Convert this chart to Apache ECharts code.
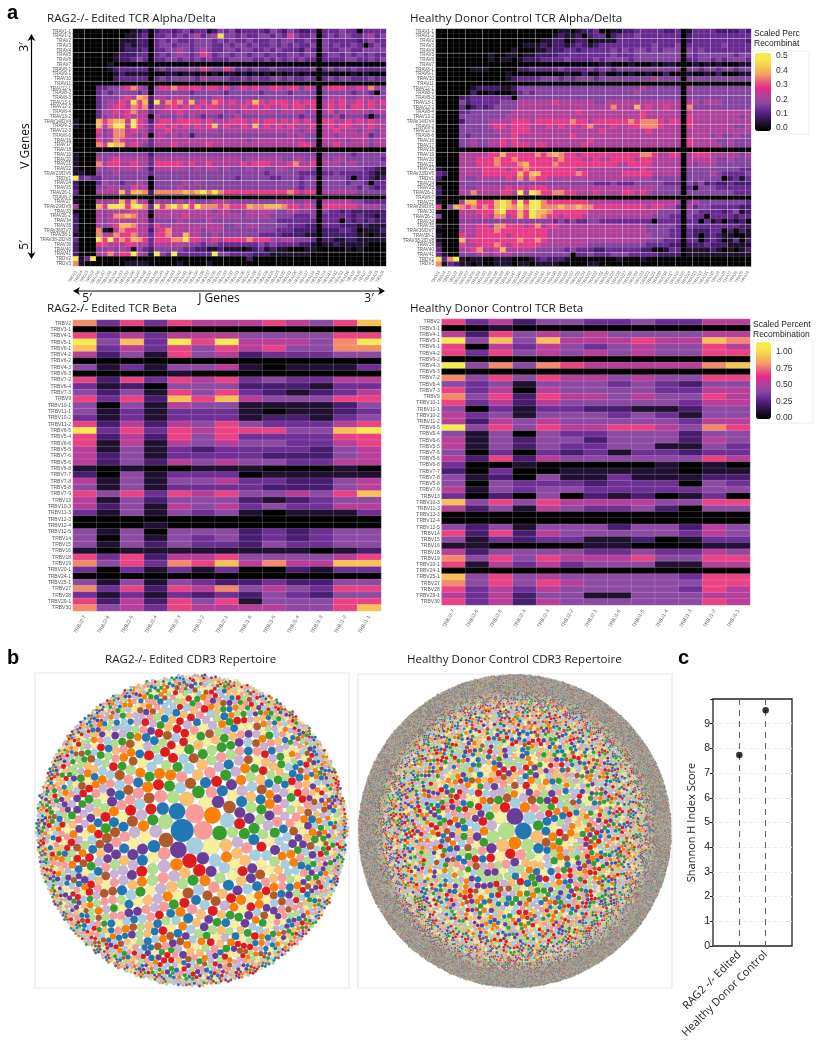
<!DOCTYPE html>
<html><head><meta charset="utf-8">
<style>html,body{margin:0;padding:0;background:#fff}#c{width:819px;height:1050px}</style>
<script src="https://cdn.jsdelivr.net/npm/echarts@6/dist/echarts.min.js"></script></head>
<body><div id="c"></div>
<script>
const alphaV=["TRAV1-1","TRAV1-2","TRAV2","TRAV3","TRAV4","TRAV5","TRAV6","TRAV7","TRAV8-1","TRAV9-1","TRAV10","TRAV11","TRAV12-1","TRAV8-2","TRAV8-3","TRAV13-1","TRAV12-2","TRAV8-4","TRAV13-2","TRAV14/DV4","TRAV9-2","TRAV12-3","TRAV8-6","TRAV16","TRAV17","TRAV18","TRAV19","TRAV20","TRAV21","TRAV22","TRAV23/DV6","TRDV1","TRAV24","TRAV25","TRAV26-1","TRAV8-7","TRAV27","TRAV29/DV5","TRAV30","TRAV26-2","TRAV34","TRAV35","TRAV36/DV7","TRAV38-1","TRAV38-2/DV8","TRAV39","TRAV40","TRAV41","TRDV2","TRDV3"];
const alphaJ=["TRDJ1","TRDJ4","TRDJ3","TRDJ2","TRAJ58","TRAJ57","TRAJ56","TRAJ54","TRAJ53","TRAJ52","TRAJ50","TRAJ49","TRAJ48","TRAJ47","TRAJ46","TRAJ45","TRAJ44","TRAJ43","TRAJ42","TRAJ41","TRAJ40","TRAJ39","TRAJ38","TRAJ37","TRAJ36","TRAJ34","TRAJ33","TRAJ32","TRAJ31","TRAJ30","TRAJ29","TRAJ28","TRAJ27","TRAJ26","TRAJ24","TRAJ23","TRAJ22","TRAJ21","TRAJ20","TRAJ18","TRAJ17","TRAJ16","TRAJ15","TRAJ14","TRAJ13","TRAJ12","TRAJ11","TRAJ10","TRAJ9","TRAJ8","TRAJ7","TRAJ6","TRAJ5","TRAJ4"];
const betaV=["TRBV2","TRBV3-1","TRBV4-1","TRBV5-1","TRBV6-1","TRBV4-2","TRBV6-2","TRBV4-3","TRBV6-3","TRBV7-2","TRBV6-4","TRBV7-3","TRBV9","TRBV10-1","TRBV11-1","TRBV10-2","TRBV11-2","TRBV6-5","TRBV5-4","TRBV6-6","TRBV5-5","TRBV7-6","TRBV5-6","TRBV6-8","TRBV7-7","TRBV7-8","TRBV5-8","TRBV7-9","TRBV13","TRBV10-3","TRBV11-3","TRBV12-3","TRBV12-4","TRBV12-5","TRBV14","TRBV15","TRBV16","TRBV18","TRBV19","TRBV20-1","TRBV24-1","TRBV25-1","TRBV27","TRBV28","TRBV29-1","TRBV30"];
const betaJ=["TRBJ2-7","TRBJ2-6","TRBJ2-5","TRBJ2-4","TRBJ2-3","TRBJ2-2","TRBJ2-1","TRBJ1-6","TRBJ1-5","TRBJ1-4","TRBJ1-3","TRBJ1-2","TRBJ1-1"];
// Each digit is one cell's colour level; the levels map to values below.
const alphaLevels=[0,.05,.1,.14,.18,.23,.3,.36,.41,.5];
const betaLevels=[0,.115,.23,.33,.42,.53,.68,.8,.93,1.12];
const alphaEdited=[
"0000 000000112 0 23323423312434 23333243243223 0 33343303333",
"0000 000001123 0 33434345345944 34334434364334 0 34344334534",
"0000 000011122 0 34343334443434 33433343443343 0 43333323433",
"0000 000012122 0 34434434443343 44343343434334 0 43433430343",
"0000 000012223 0 33445434543344 34433434333243 0 43344334444",
"0000 000122233 0 34345434653443 44344343344344 0 34434343433",
"0000 000122343 0 33443434343334 44433434343433 0 33334433434",
"0000 001000000 0 00000000000000 00000000000000 0 00000000000",
"0000 001233333 0 34344454654465 34343343333334 0 34343433333",
"0000 000121111 0 00110110101011 01010101011010 0 10000101000",
"0000 000233333 0 34344443544443 34343344343343 0 34344333433",
"0000 000000000 0 00000000000000 00000000000000 0 00000000000",
"0000 334456754 0 56676666566564 56565566566465 0 56665565754",
"0000 343444434 0 44444434444434 44443444434444 0 44444344304",
"0000 344456587 2 55455544445544 44444444444444 0 45554455454",
"0000 345565968 2 95767585657656 55686566656566 0 56565565656",
"0000 345665767 2 55665656566555 56565655656656 0 56564665655",
"0000 355656755 3 45556555555545 45555554555545 0 56455555455",
"0000 345556555 0 54445454344344 54444444444344 0 44534443034",
"1000 867885965 2 56656666565556 66565665656565 0 66556565655",
"1000 857995965 3 66565656568565 56585656565556 0 56566555655",
"0000 645775655 3 55655545555455 55555555555455 0 55655545545",
"0000 545775545 0 55454524444444 44444444454544 0 55455555345",
"0000 645765555 3 55555555555555 55455555555544 0 55554555455",
"0000 769885654 3 55565555565555 55555555555665 0 55655555455",
"0000 000000000 0 00000000000000 00000000000000 0 00000000000",
"1000 444444444 2 44444444444444 44444444444444 0 44444344444",
"1000 545655555 3 55555555555555 54555555445545 0 54554444443",
"1000 756655655 3 66666565565555 56566655567556 0 55545544444",
"1000 545555554 2 55555545455454 44545445545554 0 44444443321",
"1100 444544444 3 44444444444444 44444344444333 0 33433333211",
"9343 344444444 0 44444444444444 34444433444344 0 44443033212",
"2000 354434454 0 44444545444444 44444444444344 0 44443443033",
"2000 445544655 0 44445444444444 44444444444344 0 44444434323",
"3000 555585887 2 77777878979766 66666666676566 0 55555544444",
"0000 000000000 0 00000000000000 00000000000000 0 00000000000",
"1000 545585855 1 54445454445554 44444445554454 0 55555443333",
"5000 869996997 3 96897969777676 66877888766565 0 66666655554",
"0000 545555655 1 55555555554554 44555554455444 0 43323222222",
"2000 545778755 0 55555655555555 54555544443334 0 33333232212",
"2000 545555555 2 44445444454444 44444443333333 0 33303232322",
"2000 545688755 3 65555555555544 54554444433322 0 33322212111",
"2000 710576655 2 56755555455544 44444443332222 0 22233201112",
"1000 755766755 3 66755855445444 44443333222211 0 22222211011",
"3000 969676876 3 66677966556566 66766654554443 0 22112211111",
"2000 665556655 3 55555544344333 33334343333221 0 11211111000",
"2000 445454143 2 44444332211211 10123121100011 0 00001010000",
"2000 557566954 1 94393333339443 33322211111110 0 00000000000",
"9139 000000000 0 00000000000000 00200000000000 0 00000000000",
"7100 000001111 0 00001000010000 00000000000000 0 00000000000"];
const alphaHealthy=[
"0000 000000000 0 00000001101223 00112233333223 0 13333222232",
"0000 000000000 0 00000012112023 30233343333333 0 23333333333",
"0000 000000000 0 00001122012201 11133333333333 0 23333333332",
"0000 000000000 0 01112122123212 33333333343334 0 33333343333",
"0000 000000000 1 00011222332333 33434344343444 0 43433333333",
"0000 000001001 1 01122223333333 33433344444444 0 43444444344",
"0000 000001011 0 12223333433334 34444344444444 0 33443434443",
"0000 000000000 0 00000000000000 11000100010110 0 01010100011",
"0000 001110000 0 22333334333343 44344444444444 0 44344344344",
"0000 000000001 0 00000000100200 20010100100200 0 10010200011",
"0000 000000001 2 33334443434443 44444444454444 0 44444444444",
"0000 000000000 0 00000000000000 00000000000000 0 00000000000",
"0000 001222211 2 44444444444444 44444445444444 0 54444444444",
"0000 002001000 1 34344444444444 44444454444444 0 44444444444",
"0000 223333333 0 44444444444444 44444444444444 0 44444444444",
"0000 423333344 4 55555565555554 45555555555555 0 55455544444",
"0000 302323444 4 55555555555555 55755585655655 0 74444444444",
"0000 334444444 5 55555555556555 55555556555555 0 55555555555",
"0000 444444445 5 55555555555555 55555556555555 0 65555555545",
"0000 244445555 6 66566666676656 66666767776566 0 65555555555",
"0000 444445665 6 66555656565675 55655667776555 0 65555555445",
"0000 444444555 6 66555555555555 65555555655555 0 55555555555",
"0000 434444455 6 55555555565555 55555555555555 0 55554544544",
"0000 445445565 6 55555555555565 55555555555555 0 65555445444",
"0000 445445565 6 66566555555655 55555555555555 0 65555545444",
"0000 000000000 0 00000000000000 00000000000000 0 00000000000",
"0000 555556686 6 66676787665666 66666667765566 0 56665555545",
"0000 555666766 7 66666667666556 55666656655555 0 55555445444",
"0000 555666766 6 78666676666666 66655666655555 0 54555444444",
"1000 555566665 6 67666666665555 55555556555555 0 44444444433",
"3200 555566666 6 86886666667655 55556666655555 0 44445433334",
"2000 544555556 5 75766555555555 55555555544444 0 44444402313",
"0000 444444444 4 44444444444443 33433344444333 0 43423223222",
"2000 544555556 5 65666555555555 55555555554444 0 30444333333",
"2000 557555566 5 95986677665556 55556656544444 0 44444444333",
"0000 000000000 0 00000000000000 00000000000000 0 00000000000",
"1000 588666898 6 96997666666655 55555555555555 0 45444444443",
"6048 767676898 7 97997778778776 66666666566553 0 53443333322",
"0000 555666896 6 86988766666655 55555555554444 0 44333323412",
"4000 555565775 6 86987665666555 55555555544433 0 43303333233",
"0000 444444444 4 44444434343344 33333333303333 0 33031202120",
"1000 555665776 6 65675665555555 55555555444443 0 43333333322",
"0000 555666766 6 66666555555555 55555555444433 0 32223302021",
"1000 655666665 6 66666555555555 55555555544433 0 32023211001",
"1000 856666666 6 76676555555555 55555555444333 0 33023201302",
"2000 655666765 6 66665555555544 44444444333322 0 22232221111",
"3000 556755685 5 55544444343332 23333332200133 0 11112101012",
"3100 444554555 4 44444444403343 33444333332222 0 11111111111",
"9379 101100111 0 00123222100000 00010001000000 0 00000000000",
"7132 110100111 0 11011110000011 00000000000000 0 00000000000"];
const betaEdited=["7363655565468","0000000000000","6353555444466","9483969555479","8353646564477","5241645233344","0000000000000","4131445101113","0000100000000","6263656343355","3120444222133","4241646321235","6362868544466","4041544111124","4131333101123","3131333122134","6252546433356","9363656664489","6252646333366","6151545443356","5141323333245","5241333322245","5242545443355","1010011100010","2041333011111","5141445332245","4141333322245","6463656445468","5142444212344","5241545343355","3141434101113","0000000000000","0001000000000","4140444232344","4041434232344","4142433243344","1011111111012","6362556444456","7463768575588","3031313002133","0000000000000","4141432232244","7362657454366","3131323243244","6252646144466","7453655554468"];
const betaHealthy=["6352443343355","0010000000000","5264545444455","9484855565587","6053543454465","6364545454466","0000000000000","9474765555578","0000000000000","7464655454466","4341444343244","6350544443355","7462655454465","6352544444355","4031332211244","5341444343144","5254544444355","9464655665476","4140433444244","5142442444254","5142433441143","4030323133233","5262544444465","3001000001010","2030011111011","4120411311122","4043332333043","5143443333344","3020402120130","8464655554466","5241543342044","0000000000000","0000000000000","4241444244254","6262544444354","4132331120133","1100001100011","5244443343354","7464655564466","6153534441155","0000000000000","8464544444366","7464654444466","6353544444365","5352441144455","6352544444465"];
// Clone sizes (radius in the picture's pixels and how many clones have it), estimated from the bubble plots.
const editedCloneRadius=[11,9,8,7,6,5.3,4.8,4.2,3.7,3,2.5,1.9,1.4];
const editedCloneCount=[1,2,5,6,17,70,113,150,219,220,330,400,650];
const healthyCloneRadius=[8,6,5,4.2,3.5,3,2.6,2.2,1.8,1.4,1,.8,.5];
const healthyCloneCount=[3,7,10,29,100,139,280,400,650,1080,1500,2300,15000];
const clonePalette=["#a6cee3","#1f78b4","#b2df8a","#33a02c","#fb9a99","#e31a1c","#fdbf6f","#ff7f00","#cab2d6","#6a3d9a","#f7ef99","#b15928"];
const editedColourOrder="beeajbkhlcdafgjikebdghacjfielbkdhfcigjaebldhkficgjabedlkcfhigjdbaeclfkhgi";
const healthyColourOrder="cbjhgcakcgidfehfjbkalcdieghbjkfacdlegibfjhkaldciebgjfhkcladibegfjhkdc";
const shannonNames=["RAG2 -/- Edited","Healthy Donor Control"];
const shannonScores=[7.73,9.54];
const heatColours=["#000000","#1c0f2c","#3f1a66","#6a2b92","#8c4aa2","#b4409a","#e5278b","#ee5f7c","#f4a35f","#f6c455","#f5e84a","#f2ee50"];

function cells(rows,levels){
  const out=[];
  rows.forEach((r,y)=>{[...r.replace(/ /g,'')].forEach((d,x)=>out.push([x,y,levels[+d]]));});
  return out;
}
// Front-chain circle packing of the clone sizes, largest first.
function place(b,a,c){
  const dx=b.x-a.x,dy=b.y-a.y,d2=dx*dx+dy*dy;let x,y;
  if(d2){
    let a2=a.r+c.r;a2*=a2;let b2=b.r+c.r;b2*=b2;
    if(a2>b2){x=(d2+b2-a2)/(2*d2);y=Math.sqrt(Math.max(0,b2/d2-x*x));c.x=b.x-x*dx-y*dy;c.y=b.y-x*dy+y*dx;}
    else{x=(d2+a2-b2)/(2*d2);y=Math.sqrt(Math.max(0,a2/d2-x*x));c.x=a.x+x*dx-y*dy;c.y=a.y+x*dy+y*dx;}
  }else{c.x=a.x+c.r;c.y=a.y;}
}
function hit(a,b){const dr=a.r+b.r-1e-6,dx=b.x-a.x,dy=b.y-a.y;return dr>0&&dr*dr>dx*dx+dy*dy;}
function score(n){const a=n.c,b=n.next.c,ab=a.r+b.r,dx=(a.x*b.r+b.x*a.r)/ab,dy=(a.y*b.r+b.y*a.r)/ab;return dx*dx+dy*dy;}
function pack(radius,count,fit){
  const cs=[];radius.forEach((r,i)=>{for(let k=0;k<count[i];k++)cs.push({r,x:0,y:0});});
  let a=cs[0],b=cs[1],c=cs[2];
  a.x=-b.r;b.x=a.r;b.y=0;place(b,a,c);
  a={c:a};b={c:b};c={c:c};
  a.next=c.previous=b;b.next=a.previous=c;c.next=b.previous=a;
  pack:for(let i=3;i<cs.length;++i){
    place(a.c,b.c,cs[i]);c={c:cs[i]};
    let j=b.next,k=a.previous,sj=b.c.r,sk=a.c.r;
    do{
      if(sj<=sk){
        if(hit(j.c,c.c)){b=j;a.next=b;b.previous=a;--i;continue pack;}
        sj+=j.c.r;j=j.next;
      }else{
        if(hit(k.c,c.c)){a=k;a.next=b;b.previous=a;--i;continue pack;}
        sk+=k.c.r;k=k.previous;
      }
    }while(j!==k.next);
    c.previous=a;c.next=b;a.next=b.previous=b=c;
    let aa=score(a),ca;
    while((c=c.next)!==b){if((ca=score(c))<aa){a=c;aa=ca;}}
    b=a.next;
  }
  let minX=1e9,maxX=-1e9,minY=1e9,maxY=-1e9;
  cs.forEach(o=>{minX=Math.min(minX,o.x-o.r);maxX=Math.max(maxX,o.x+o.r);minY=Math.min(minY,o.y-o.r);maxY=Math.max(maxY,o.y+o.r);});
  const s=2*fit/Math.max(maxX-minX,maxY-minY),cx=(minX+maxX)/2,cy=(minY+maxY)/2;
  return cs.map(o=>[(o.x-cx)*s,(o.y-cy)*s,o.r*s]);
}
const FONT='"Open Sans"',SANS='"Liberation Sans"';
const titleAt=(text,left,cy,size,extra)=>Object.assign({text,left,top:cy-size*0.75,padding:0,textStyle:{fontFamily:FONT,fontWeight:400,fontSize:size,color:'#1a1a1a',lineHeight:size*1.2}},extra||{});
const titles=[
 titleAt("RAG2-/- Edited TCR Alpha/Delta",47,20,11.6),
 titleAt("Healthy Donor Control TCR Alpha/Delta",410,20,11.6),
 titleAt("RAG2-/- Edited TCR Beta",47,310,11.6),
 titleAt("Healthy Donor Control TCR Beta",410,310,11.6),
 titleAt("RAG2-/- Edited CDR3 Repertoire",105,661,11.6),
 titleAt("Healthy Donor Control CDR3 Repertoire",407,661,11.6),
 {text:"Scaled Perc\nRecombinat",left:754,top:28,padding:0,textStyle:{fontFamily:SANS,fontWeight:400,fontSize:8.5,lineHeight:10.5,color:'#222'}},
 {text:"Scaled Percent\nRecombination",left:753,top:319,padding:0,textStyle:{fontFamily:SANS,fontWeight:400,fontSize:8.5,lineHeight:10.5,color:'#222'}},
 {text:"a",left:7,top:3,padding:0,textStyle:{fontFamily:SANS,fontWeight:700,fontSize:20,color:'#000'}},
 {text:"b",left:7,top:648,padding:0,textStyle:{fontFamily:SANS,fontWeight:700,fontSize:20,color:'#000'}},
 {text:"c",left:678,top:648,padding:0,textStyle:{fontFamily:SANS,fontWeight:700,fontSize:20,color:'#000'}}
];
const heatPanels=[
 {g:[73,29,313,237],rows:alphaEdited,lv:alphaLevels,xs:alphaJ,ys:alphaV,lab:4.6,xlab:4.2,dense:true},
 {g:[436,29,315,237.5],rows:alphaHealthy,lv:alphaLevels,xs:alphaJ,ys:alphaV,lab:4.6,xlab:4.2,dense:true},
 {g:[73,320,308,291],rows:betaEdited,lv:betaLevels,xs:betaJ,ys:betaV,lab:5,xlab:5,dense:false},
 {g:[441.7,319,308.3,286],rows:betaHealthy,lv:betaLevels,xs:betaJ,ys:betaV,lab:5,xlab:5,dense:false}
];
const grid=[],xAxis=[],yAxis=[],series=[];
const lattice=p=>p.dense?{show:true,interval:i=>i%3===2,lineStyle:{color:'rgba(255,255,255,0.42)',width:0.8}}:{show:false};
heatPanels.forEach((p,i)=>{
 grid.push({left:p.g[0],top:p.g[1],width:p.g[2],height:p.g[3],containLabel:false});
 xAxis.push({type:'category',gridIndex:i,z:3,data:p.xs,axisLine:{show:false},axisTick:{show:false},splitLine:lattice(p),
   axisLabel:{interval:0,rotate:60,fontSize:p.xlab,color:'#666',fontFamily:SANS,margin:5,hideOverlap:false}});
 yAxis.push({type:'category',gridIndex:i,z:3,data:p.ys,inverse:true,axisLine:{show:false},axisTick:{show:false},splitLine:lattice(p),
   axisLabel:{interval:0,fontSize:p.lab,color:'#555',fontFamily:SANS,margin:2,hideOverlap:false}});
 series.push({type:'heatmap',xAxisIndex:i,yAxisIndex:i,data:cells(p.rows,p.lv),silent:true,animation:false,progressive:0,
   itemStyle:{borderColor:p.dense?'rgba(255,255,255,0.16)':'rgba(255,255,255,0.3)',borderWidth:0.5},emphasis:{disabled:true}});
});
const packPanels=[
 {g:[35,673,314,315],data:pack(editedCloneRadius,editedCloneCount,157),order:editedColourOrder,bw:.2,cut:0},
 {g:[358,674,314,314],data:pack(healthyCloneRadius,healthyCloneCount,157),order:healthyColourOrder,bw:.22,cut:.85}
];
packPanels.forEach((p)=>{
 const i=grid.length;
 grid.push({left:p.g[0],top:p.g[1],width:p.g[2],height:p.g[3],show:true,backgroundColor:'#fff',borderColor:'#e9e9ee',borderWidth:1.2});
 xAxis.push({type:'value',gridIndex:i,min:-p.g[2]/2,max:p.g[2]/2,show:false});
 yAxis.push({type:'value',gridIndex:i,min:-p.g[3]/2,max:p.g[3]/2,show:false});
 const order=p.order,pal=clonePalette;
 const big=p.data.filter(v=>v[2]>p.cut),small=p.data.filter(v=>v[2]<=p.cut);
 const mk=(data,bw)=>({type:'scatter',xAxisIndex:i,yAxisIndex:i,data,silent:true,animation:false,large:false,progressive:0,clip:false,
   symbol:'circle',symbolSize:v=>v[2]*2,
   itemStyle:{color:q=>pal[order.charCodeAt(q.dataIndex%order.length)-97],borderColor:'#8a8a8a',borderWidth:bw,opacity:1}});
 series.push(mk(big,p.bw));
 if(small.length)series.push(mk(small,.42));
});
// Shannon panel
{const i=grid.length;
 grid.push({left:713,top:699,width:79,height:247,show:true,borderColor:'#222',borderWidth:1.3});
 xAxis.push({type:'value',gridIndex:i,min:0,max:3,interval:1,
   axisLine:{show:false},axisTick:{show:false},
   axisLabel:{rotate:45,margin:7,fontSize:11,color:'#222',fontFamily:FONT,hideOverlap:false,showMinLabel:false,showMaxLabel:false,formatter:v=>shannonNames[v-1]||''},
   splitLine:{show:true,showMinLine:false,showMaxLine:false,lineStyle:{color:'#666',type:[6,5],width:1.1}}});
 yAxis.push({type:'value',gridIndex:i,min:0,max:10,interval:1,name:"Shannon H Index Score",nameLocation:'middle',nameGap:16,nameRotate:90,
   nameTextStyle:{fontFamily:FONT,fontSize:11,color:'#222'},
   axisLine:{show:false},axisTick:{show:true,length:3,lineStyle:{color:'#222'}},
   axisLabel:{fontSize:10.5,color:'#222',fontFamily:SANS,margin:3,formatter:v=>v===10?'':v},
   splitLine:{show:true,showMinLine:false,showMaxLine:false,lineStyle:{color:'#eeeeee',type:'dashed',width:1}}});
 series.push({type:'scatter',xAxisIndex:i,yAxisIndex:i,data:shannonScores.map((s,k)=>[k+1,s]),symbol:'circle',symbolSize:6.5,silent:true,animation:false,z:5,itemStyle:{color:'#000'}});
}
// Colour-bar scales
[[755,56,16,72,.5,.1,1],[756,352,15,66,1,.25,2]].forEach(l=>{
 const i=grid.length;
 grid.push({left:l[0],top:l[1],width:l[2],height:l[3]});
 xAxis.push({type:'value',gridIndex:i,show:false,min:0,max:1});
 yAxis.push({type:'value',gridIndex:i,position:'right',min:0,max:l[4],interval:l[5],axisLine:{show:false},axisTick:{show:false},splitLine:{show:false},
   axisLabel:{fontSize:8.5,color:'#333',fontFamily:SANS,margin:5,formatter:v=>v.toFixed(l[6])}});
 series.push({type:'scatter',xAxisIndex:i,yAxisIndex:i,data:[],silent:true});
});
const arrow=(pts)=>({type:'polygon',shape:{points:pts},style:{fill:'#000'},silent:true});
const lab=(text,x,y,rot,size)=>({type:'text',x,y,rotation:rot||0,silent:true,style:{text,fontFamily:FONT,fontSize:size||12,fill:'#111',align:'center',verticalAlign:'middle'}});
const graphic=[
 {type:'line',shape:{x1:31.5,y1:38,x2:31.5,y2:256},style:{stroke:'#000',lineWidth:1.2},silent:true},
 arrow([[31.5,34],[27.5,41],[31.5,39],[35.5,41]]),arrow([[31.5,259],[27.5,252],[31.5,254],[35.5,252]]),
 lab("3′",25,47,Math.PI/2),lab("5′",25,245,Math.PI/2),lab("V Genes",26,146,Math.PI/2,12),
 {type:'line',shape:{x1:77,y1:291,x2:381,y2:291},style:{stroke:'#000',lineWidth:1.2},silent:true},
 arrow([[73,291],[80,287],[78,291],[80,295]]),arrow([[385,291],[378,287],[380,291],[378,295]]),
 lab("5′",87,299,0),lab("J Genes",219,299,0,12),lab("3′",369,299,0),
 {type:'rect',shape:{x:753,y:51,width:56,height:83},style:{fill:'none',stroke:'#eeeeee',lineWidth:1},silent:true},
 {type:'rect',shape:{x:753,y:340,width:60,height:83},style:{fill:'none',stroke:'#eeeeee',lineWidth:1},silent:true}
];
const visualMap=[
 {type:'continuous',min:0,max:.52,seriesIndex:[0,1],left:755,top:53,itemWidth:16,itemHeight:78,padding:0,calculable:false,hoverLink:false,realtime:false,inRange:{color:heatColours},textStyle:{fontSize:1,color:'transparent'}},
 {type:'continuous',min:0,max:1.15,seriesIndex:[2,3],left:756,top:342,itemWidth:15,itemHeight:77,padding:0,calculable:false,hoverLink:false,realtime:false,inRange:{color:heatColours},textStyle:{fontSize:1,color:'transparent'}}
];
const chart=echarts.init(document.getElementById('c'),null,{renderer:'canvas',width:819,height:1050});
chart.setOption({animation:false,backgroundColor:'#fff',title:titles,grid,xAxis,yAxis,visualMap,series,graphic});
</script></body></html>
